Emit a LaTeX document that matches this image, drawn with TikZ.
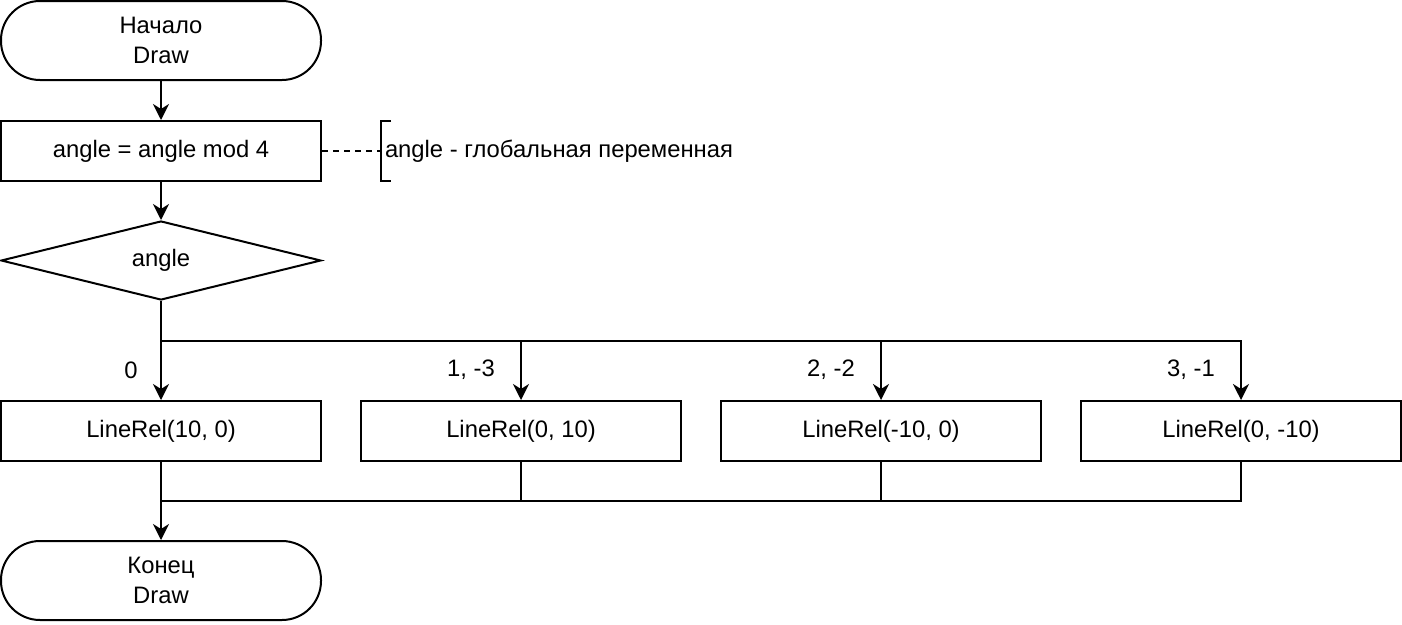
\documentclass[tikz,border=0pt]{standalone}
\usepackage{fontspec}
\setmainfont{Liberation Sans}
\usetikzlibrary{shapes,arrows.meta}

\begin{document}
\begin{tikzpicture}[x=1pt,y=-1pt,line width=2pt,
	every node/.style={font=\fontsize{23.8}{30}\selectfont},
	block/.style={draw,rectangle,minimum width=320pt,minimum height=60pt,inner sep=0pt},
	term/.style={draw,rectangle,rounded corners=39pt,minimum width=320pt,minimum height=79pt,inner sep=0pt,align=center},
	decision/.style={draw,diamond,aspect=4,minimum width=320pt,minimum height=79pt,inner sep=0pt},
	arr/.style={-{Stealth[length=16pt,width=16pt,inset=5pt]}}]
	
	\useasboundingbox (0,0) rectangle (1402,624);
	
	% draw blocks
	\node[term] (start) at (161,40.5) {Начало\\Draw};
	\node[block] (init) at (161,151) {angle = angle mod 4};
	\node[decision] (sel) at (161,260.5) {angle};
	\node[block] (c0) at (161,431) {LineRel(10, 0)};
	\node[block] (c1) at (521,431) {LineRel(0, 10)};
	\node[block] (c2) at (881,431) {LineRel(-10, 0)};
	\node[block] (c3) at (1241,431) {LineRel(0, -10)};
	\node[term] (stop) at (161,580.5) {Конец\\Draw};
	
	% comment
	\coordinate (brk) at (381,151);
	\draw (391,121) -- (381,121) -- (381,181) -- (391,181);
	\node[anchor=west,inner sep=0pt] (note) at (384,151) {angle - глобальная переменная};
	\draw[dashed,dash pattern=on 6pt off 5pt] (init) -- (brk);
	
	% draw connectors
	\coordinate (split) at (161,341);
	\coordinate (join) at (161,501);
	\draw[arr] (start) -- (init);
	\draw[arr] (init) -- (sel);
	\draw[arr] (sel) -- (c0);
	\foreach \n in {c1,c2,c3}
		\draw[arr] (split) -| (\n);
	\foreach \n in {c1,c2,c3}
		\draw (\n) |- (join);
	\draw[arr] (c0) -- (stop);
	
	% case labels
	\node (l0) at (131,370) {0};
	\node (l1) at (471,370) {1, -3};
	\node (l2) at (831,370) {2, -2};
	\node (l3) at (1191,370) {3, -1};
	
\end{tikzpicture}
\end{document}
